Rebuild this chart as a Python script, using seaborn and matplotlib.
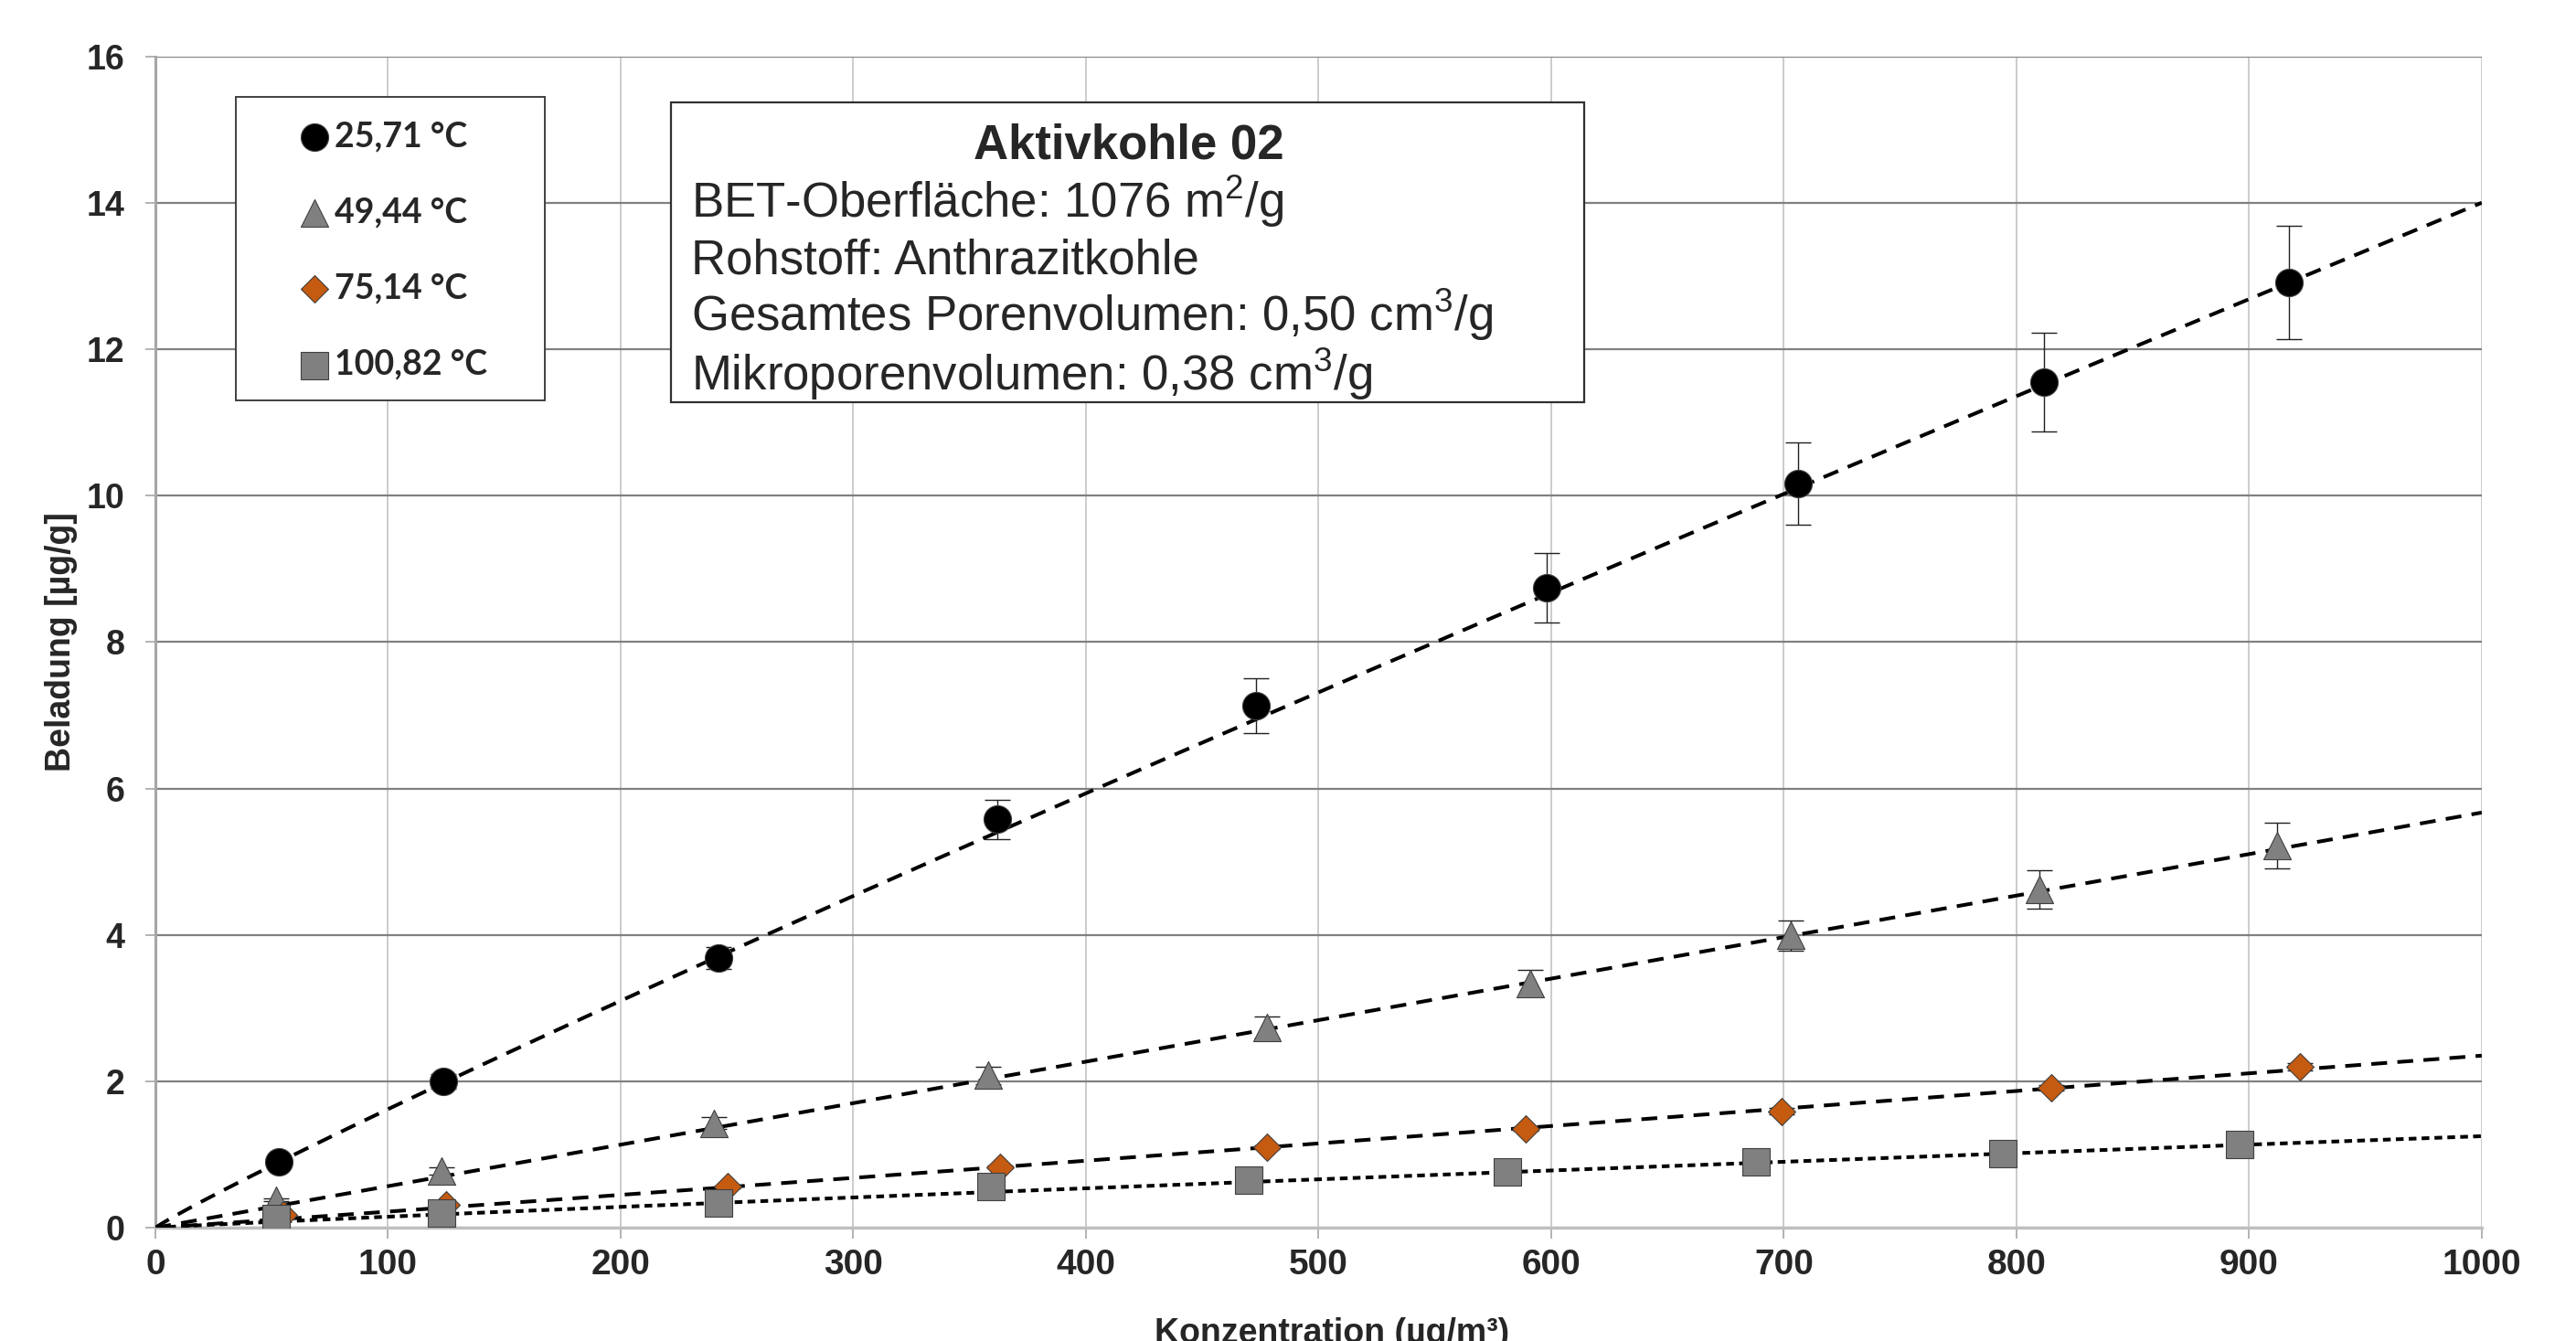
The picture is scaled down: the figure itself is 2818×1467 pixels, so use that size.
import numpy as np
import pandas as pd
import seaborn as sns
import matplotlib.pyplot as plt
from matplotlib.patches import Rectangle

# Daten
temps = ["25,71 °C", "49,44 °C", "75,14 °C", "100,82 °C"]

konz_1 = [53, 124, 242, 362, 473, 598, 706, 812, 917]
bel_1 = [0.90, 2.00, 3.68, 5.58, 7.13, 8.74, 10.16, 11.55, 12.91]
err_1 = [0.05, 0.10, 0.15, 0.27, 0.37, 0.47, 0.56, 0.67, 0.77]

konz_2 = [52, 123, 240, 358, 478, 591, 703, 810, 912]
bel_2 = [0.38, 0.78, 1.43, 2.08, 2.73, 3.34, 3.99, 4.62, 5.22]
err_2 = [0.02, 0.05, 0.08, 0.12, 0.15, 0.18, 0.21, 0.26, 0.31]

konz_3 = [55, 125, 246, 363, 478, 589, 699, 815, 922]
bel_3 = [0.17, 0.31, 0.56, 0.83, 1.10, 1.35, 1.59, 1.91, 2.20]
err_3 = [0.01, 0.01, 0.02, 0.02, 0.03, 0.03, 0.04, 0.04, 0.05]

konz_4 = [52, 123, 242, 359, 470, 581, 688, 794, 896]
bel_4 = [0.13, 0.20, 0.34, 0.56, 0.65, 0.76, 0.90, 1.01, 1.14]
err_4 = [0.01, 0.01, 0.02, 0.03, 0.03, 0.04, 0.05, 0.05, 0.06]

# Potenz-Trendlinien y = a * (x/1000)^n  (Wert bei 1000 und Exponent)
trend_end = [14.0, 5.67, 2.35, 1.25]
trend_exp = [0.937, 1.0, 1.03, 0.92]

df = pd.concat([
    pd.DataFrame({"Konzentration": k, "Beladung": b, "Fehler": e, "Temp": t})
    for k, b, e, t in zip([konz_1, konz_2, konz_3, konz_4],
                          [bel_1, bel_2, bel_3, bel_4],
                          [err_1, err_2, err_3, err_4], temps)
])

colors = ["black", "#808080", "#C55A11", "#808080"]
markers = ["o", "^", "D", "s"]
sizes = [117, 117, 58, 117]
dashes = [(4.3, 2.8), (4.3, 2.8), (4.3, 2.8), (2.1, 1.4)]

sns.set_theme(style="white")
plt.rcParams["font.family"] = ["Liberation Sans", "DejaVu Sans"]
plt.rcParams["mathtext.fontset"] = "custom"
plt.rcParams["mathtext.rm"] = "Liberation Sans"
plt.rcParams["mathtext.it"] = "Liberation Sans:italic"
plt.rcParams["mathtext.bf"] = "Liberation Sans:bold"

fig = plt.figure(figsize=(14.09, 7.335), dpi=200)
ax = fig.add_axes([0.0603, 0.0845, 0.9031, 0.8735])

# Trendlinien
xx = np.linspace(0, 1000, 300)
for a, n, d in zip(trend_end, trend_exp, dashes):
    sns.lineplot(x=xx, y=a * (xx / 1000) ** n, ax=ax, color="black",
                 lw=1.45, zorder=3).lines[-1].set_dashes(d)

# Fehlerbalken + Punkte
for t, c, mk, s in zip(temps, colors, markers, sizes):
    sub = df[df["Temp"] == t]
    ax.errorbar(sub["Konzentration"], sub["Beladung"], yerr=sub["Fehler"], fmt="none",
                ecolor="#202020", elinewidth=0.5, capsize=5, capthick=0.5, zorder=2)
    sns.scatterplot(data=sub, x="Konzentration", y="Beladung", ax=ax, color=c, marker=mk,
                    s=s, edgecolor="#404040", linewidth=0.4, label=t, zorder=4)

handles, labels = ax.get_legend_handles_labels()
ax.get_legend().remove()

ax.set_xlim(0, 1000)
ax.set_ylim(0, 16)
ax.set_xticks(range(0, 1001, 100))
ax.set_yticks(range(0, 17, 2))
ax.set_axisbelow(True)
ax.xaxis.grid(True, color="#BFBFBF", lw=0.55)
ax.yaxis.grid(True, color="#808080", lw=0.8)
for sp in ["top", "right"]:
    ax.spines[sp].set_visible(False)
ax.spines["left"].set_color("#A6A6A6")
ax.spines["left"].set_linewidth(1.1)
ax.spines["bottom"].set_color("#BFBFBF")
ax.spines["bottom"].set_linewidth(1.2)
ax.tick_params(axis="x", bottom=True, direction="out", length=4.3, width=0.6,
               color="#A6A6A6", pad=4, labelsize=14)
ax.tick_params(axis="y", left=True, direction="out", length=4, width=0.6,
               color="#A6A6A6", pad=8, labelsize=13.5)
for lab in ax.get_xticklabels() + ax.get_yticklabels():
    lab.set_fontweight("bold")

ax.set_xlabel("Konzentration (µg/m³)", fontsize=13.5, fontweight="bold", va="top")
ax.xaxis.set_label_coords(0.5057, -0.0766)
ax.set_ylabel("Beladung [µg/g]", fontsize=13.5, fontweight="bold")
ax.yaxis.set_label_coords(-0.0334, 0.5)

# Legende
W, H = 2818, 1467
fig.patches.append(Rectangle((258 / W, 1 - 438 / H), (596 - 258) / W, (438 - 106) / H,
                             transform=fig.transFigure, fill=True, facecolor="white",
                             edgecolor="#404040", lw=0.7, zorder=5))
leg = fig.legend(handles, labels, loc="upper left", bbox_to_anchor=(325 / W, 1 - 132 / H),
                 frameon=False, markerscale=1.0, handlelength=1.0, handletextpad=0.1,
                 labelspacing=1.31, borderpad=0, borderaxespad=0,
                 prop={"family": ["Lato", "DejaVu Sans"], "weight": "bold", "size": 13.5})
leg.set_zorder(6)

# Textfeld
fig.patches.append(Rectangle((734 / W, 1 - 440 / H), (1733 - 734) / W, (440 - 112) / H,
                             transform=fig.transFigure, fill=True, facecolor="white",
                             edgecolor="#303030", lw=0.8, zorder=5))
fig.text(1235 / W, 1 - 173 / H, "Aktivkohle 02", ha="center", va="baseline",
         fontsize=19, fontweight="bold", zorder=6)
info = [r"BET-Oberfläche: 1076 m$^\mathregular{2}$/g", "Rohstoff: Anthrazitkohle",
        r"Gesamtes Porenvolumen: 0,50 cm$^\mathregular{3}$/g",
        r"Mikroporenvolumen: 0,38 cm$^\mathregular{3}$/g"]
for txt, yb in zip(info, [238, 300, 362, 427]):
    fig.text(756 / W, 1 - yb / H, txt, ha="left", va="baseline", fontsize=19, zorder=6)

plt.savefig("out.png", dpi=200)
